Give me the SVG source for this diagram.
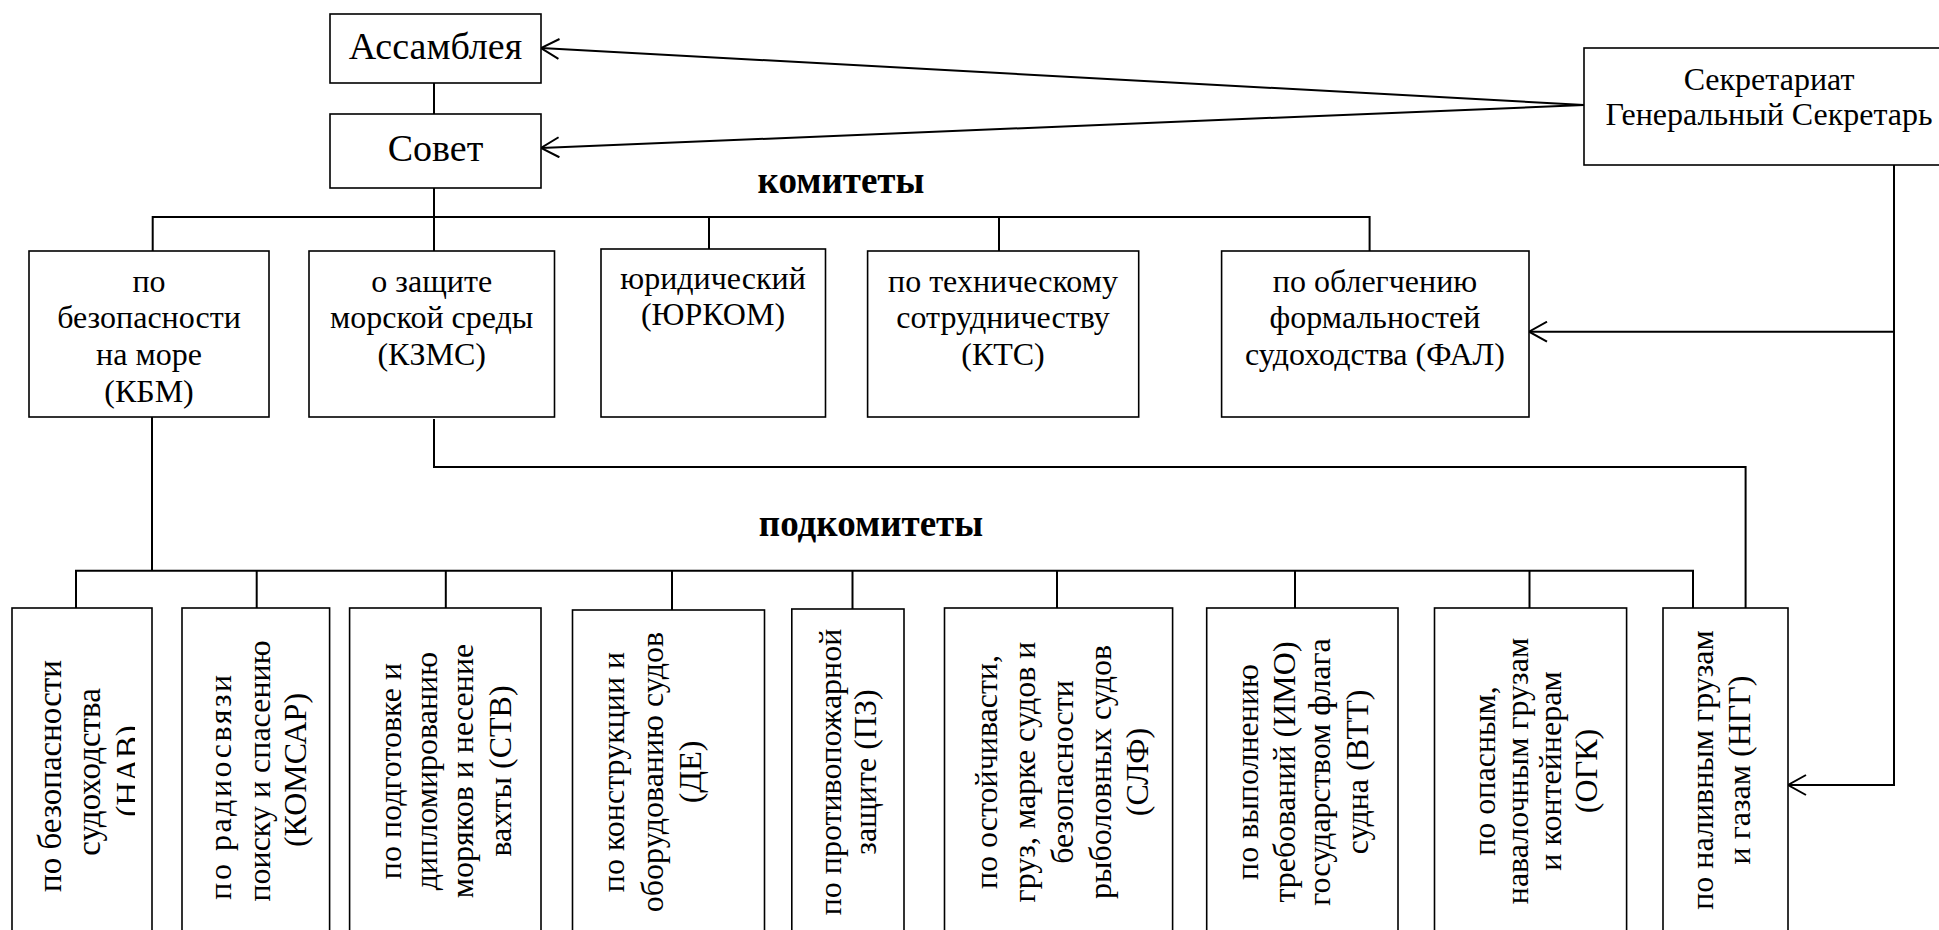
<svg xmlns="http://www.w3.org/2000/svg" width="1939" height="930" viewBox="0 0 1939 930">
<style>
.box{fill:#fff;stroke:#000;stroke-width:1.6}
.ln{fill:none;stroke:#000;stroke-width:2}
</style>
<defs>
<marker id="arr" markerUnits="userSpaceOnUse" markerWidth="22" markerHeight="22" viewBox="-20 -11 22 22" refX="0" refY="0" orient="auto">
<path d="M-18,-10 L0,0 L-18,10" fill="none" stroke="#000" stroke-width="2"/>
</marker>
<clipPath id="clipNav" clipPathUnits="userSpaceOnUse"><rect x="-1000" y="0" width="2000" height="135"/></clipPath>
</defs>
<rect width="1939" height="930" fill="#fff"/>

<g id="connectors">
<path class="ln" d="M434,83 V114"/>
<path class="ln" d="M434,188 V251"/>
<path class="ln" d="M152.7,251 V217 H1369.6 V251"/>
<path class="ln" d="M709,217 V249"/>
<path class="ln" d="M999,217 V251"/>
<path class="ln" d="M1584,105 L541,48" marker-end="url(#arr)"/>
<path class="ln" d="M1584,105 L541,148" marker-end="url(#arr)"/>
<path class="ln" d="M1894,165 V785 H1788" marker-end="url(#arr)"/>
<path class="ln" d="M1894,331.7 H1529" marker-end="url(#arr)"/>
<path class="ln" d="M152,417 V570.7"/>
<path class="ln" d="M76,608 V570.7 H1693 V608"/>
<path class="ln" d="M256.7,570.7 V608"/>
<path class="ln" d="M445.8,570.7 V608"/>
<path class="ln" d="M672,570.7 V610"/>
<path class="ln" d="M852.5,570.7 V609"/>
<path class="ln" d="M1057,570.7 V608"/>
<path class="ln" d="M1295,570.7 V608"/>
<path class="ln" d="M1529.5,570.7 V608"/>
<path class="ln" d="M434,419 V467 H1745.6 V608"/>
</g>

<g id="assembly">
<rect class="box" x="330" y="14" width="211" height="69"/>
<text font-family="Liberation Serif" font-size="38" text-anchor="middle" x="435.5" y="59">Ассамблея</text>
</g>
<g id="council">
<rect class="box" x="330" y="114" width="211" height="74"/>
<text font-family="Liberation Serif" font-size="38" text-anchor="middle" x="435.5" y="161">Совет</text>
</g>
<g id="secretariat">
<rect class="box" x="1584" y="48" width="380" height="117"/>
<text font-family="Liberation Serif" font-size="32" text-anchor="middle"><tspan x="1769" y="90">Секретариат</tspan><tspan x="1769" y="125">Генеральный Секретарь</tspan></text>
</g>

<g id="label-committees">
<text font-family="Liberation Serif" font-size="37" font-weight="bold" text-anchor="middle" x="841" y="193">комитеты</text>
</g>
<g id="label-subcommittees">
<text font-family="Liberation Serif" font-size="37" font-weight="bold" text-anchor="middle" x="871" y="536">подкомитеты</text>
</g>

<g id="c-kbm">
<rect class="box" x="29" y="251" width="240" height="166"/>
<text font-family="Liberation Serif" font-size="32" text-anchor="middle"><tspan x="149" y="292">по</tspan><tspan x="149" y="328">безопасности</tspan><tspan x="149" y="365">на море</tspan><tspan x="149" y="402">(КБМ)</tspan></text>
</g>
<g id="c-kzms">
<rect class="box" x="309" y="251" width="245.5" height="166"/>
<text font-family="Liberation Serif" font-size="32" text-anchor="middle"><tspan x="431.7" y="292">о защите</tspan><tspan x="431.7" y="328">морской среды</tspan><tspan x="431.7" y="365">(КЗМС)</tspan></text>
</g>
<g id="c-jurkom">
<rect class="box" x="601" y="249" width="224.5" height="168"/>
<text font-family="Liberation Serif" font-size="32" text-anchor="middle"><tspan x="713" y="289">юридический</tspan><tspan x="713" y="325">(ЮРКОМ)</tspan></text>
</g>
<g id="c-kts">
<rect class="box" x="867.6" y="251" width="271.1" height="166"/>
<text font-family="Liberation Serif" font-size="32" text-anchor="middle"><tspan x="1003" y="292">по техническому</tspan><tspan x="1003" y="328">сотрудничеству</tspan><tspan x="1003" y="365">(КТС)</tspan></text>
</g>
<g id="c-fal">
<rect class="box" x="1221.6" y="251" width="307.4" height="166"/>
<text font-family="Liberation Serif" font-size="32" text-anchor="middle"><tspan x="1375" y="292">по облегчению</tspan><tspan x="1375" y="328">формальностей</tspan><tspan x="1375" y="365">судоходства (ФАЛ)</tspan></text>
</g>

<g id="s-nav">
<rect class="box" x="12" y="608" width="140" height="340"/>
<text font-family="Liberation Serif" font-size="33" text-anchor="middle" transform="rotate(-90)"><tspan x="-776" y="61">по безопасности</tspan><tspan x="-772" y="100">судоходства</tspan></text>
<text font-family="Liberation Serif" font-size="33" text-anchor="middle" transform="rotate(-90)" clip-path="url(#clipNav)"><tspan x="-771" y="139">(НАВ)</tspan></text>
</g>
<g id="s-komsar">
<rect class="box" x="182" y="608" width="147.6" height="340"/>
<text font-family="Liberation Serif" font-size="32" text-anchor="middle" transform="rotate(-90)"><tspan x="-786" y="231" letter-spacing="2.5">по радиосвязи</tspan><tspan x="-771" y="270">поиску и спасению</tspan><tspan x="-770" y="306">(КОМСАР)</tspan></text>
</g>
<g id="s-stv">
<rect class="box" x="349.6" y="608" width="191.4" height="340"/>
<text font-family="Liberation Serif" font-size="32" text-anchor="middle" transform="rotate(-90)"><tspan x="-771" y="401">по подготовке и</tspan><tspan x="-771" y="437">дипломированию</tspan><tspan x="-771" y="473">моряков и несение</tspan><tspan x="-771" y="511">вахты (СТВ)</tspan></text>
</g>
<g id="s-de">
<rect class="box" x="572.5" y="610" width="192" height="338"/>
<text font-family="Liberation Serif" font-size="32" text-anchor="middle" transform="rotate(-90)"><tspan x="-772" y="624">по конструкции и</tspan><tspan x="-772" y="663">оборудованию судов</tspan><tspan x="-772" y="701">(ДЕ)</tspan></text>
</g>
<g id="s-pz">
<rect class="box" x="791.8" y="609" width="112.2" height="339"/>
<text font-family="Liberation Serif" font-size="32" text-anchor="middle" transform="rotate(-90)"><tspan x="-772" y="841">по противопожарной</tspan><tspan x="-772" y="876">защите (ПЗ)</tspan></text>
</g>
<g id="s-slf">
<rect class="box" x="944.5" y="608" width="228.1" height="340"/>
<text font-family="Liberation Serif" font-size="32" text-anchor="middle" transform="rotate(-90)"><tspan x="-772" y="997">по остойчивасти,</tspan><tspan x="-772" y="1035">груз, марке судов и</tspan><tspan x="-772" y="1073">безопасности</tspan><tspan x="-772" y="1111">рыболовных судов</tspan><tspan x="-772" y="1148">(СЛФ)</tspan></text>
</g>
<g id="s-vtt">
<rect class="box" x="1206.7" y="608" width="191.3" height="340"/>
<text font-family="Liberation Serif" font-size="32" text-anchor="middle" transform="rotate(-90)"><tspan x="-772" y="1258">по выполнению</tspan><tspan x="-772" y="1295">требований (ИМО)</tspan><tspan x="-772" y="1330">государством флага</tspan><tspan x="-772" y="1368">судна (ВТТ)</tspan></text>
</g>
<g id="s-ogk">
<rect class="box" x="1434.5" y="608" width="192.1" height="340"/>
<text font-family="Liberation Serif" font-size="32" text-anchor="middle" transform="rotate(-90)"><tspan x="-771" y="1495">по опасным,</tspan><tspan x="-771" y="1528">навалочным грузам</tspan><tspan x="-771" y="1561">и контейнерам</tspan><tspan x="-771" y="1597">(ОГК)</tspan></text>
</g>
<g id="s-ngg">
<rect class="box" x="1663" y="608" width="125" height="340"/>
<text font-family="Liberation Serif" font-size="32" text-anchor="middle" transform="rotate(-90)"><tspan x="-770" y="1713">по наливным грузам</tspan><tspan x="-770" y="1750">и газам (НГГ)</tspan></text>
</g>
</svg>
